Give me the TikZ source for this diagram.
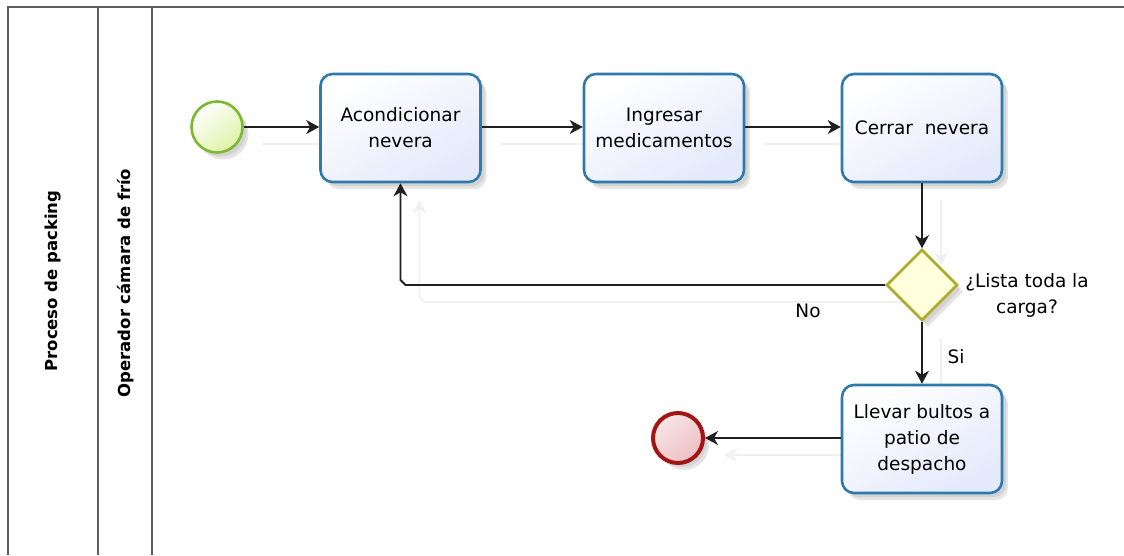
\documentclass[tikz,border=0pt]{standalone}
\usepackage{fontspec}
\setmainfont{DejaVu Sans}
\usetikzlibrary{arrows.meta,shapes.geometric,shadows,calc,backgrounds}
\definecolor{taskblue}{HTML}{2C7BAA}
\definecolor{taskfill}{HTML}{E4E9FB}
\definecolor{startgreen}{HTML}{7DB92E}
\definecolor{startfill}{HTML}{DDF3A8}
\definecolor{endred}{HTML}{A31414}
\definecolor{endfill}{HTML}{EDBFC2}
\definecolor{gateol}{HTML}{ABAB2A}
\definecolor{gatefill}{HTML}{FFFFDC}
\definecolor{lanegray}{HTML}{5E5E5E}
\definecolor{ghostgray}{HTML}{F0F0F0}
\begin{document}
\begin{tikzpicture}[x=1pt,y=-1pt,
  shad/.style={drop shadow={shadow xshift=6pt,shadow yshift=-7pt,opacity=.10,fill=black},
               drop shadow={shadow xshift=4pt,shadow yshift=-4pt,opacity=.08,fill=black}},
  task/.style={rectangle,rounded corners=12pt,draw=taskblue,line width=2.6pt,
    minimum width=160pt,minimum height=108pt,inner sep=2pt,
    top color=white,bottom color=taskfill,shading angle=30,
    align=center,font=\fontsize{18.5}{26}\selectfont,shad},
  startev/.style={circle,draw=startgreen,line width=2.6pt,minimum size=51pt,inner sep=0pt,
    top color=white,bottom color=startfill,shading angle=40,shad},
  endev/.style={circle,draw=endred,line width=4pt,minimum size=50pt,inner sep=0pt,
    top color=endfill!40,bottom color=endfill,shading angle=40,shad},
  gate/.style={diamond,aspect=1,draw=gateol,line width=2.6pt,minimum width=71pt,minimum height=71pt,
    inner sep=0pt,fill=gatefill,shad},
  conn/.style={line width=1.8pt,draw=black!88,-{Stealth[length=13pt,width=14pt,inset=4pt]}},
  ghost/.style={line width=1.6pt,draw=ghostgray,-{Stealth[length=13pt,width=14pt,inset=4pt]},
    transform canvas={shift={(19pt,-17pt)}}},
  lane/.style={draw=lanegray,line width=1.8pt},
  lanelabel/.style={rotate=90,font=\bfseries\fontsize{16.5}{19}\selectfont},
  lbl/.style={font=\fontsize{18.5}{26}\selectfont,align=center,inner sep=0pt}
]
\useasboundingbox (0,0) rectangle (1124,555);

% pool and lane
\draw[lane] (8,555) -- (8,7) -- (1124,7);
\draw[lane] (98,7) -- (98,555);
\draw[lane] (152,7) -- (152,555);
\node[lanelabel] (pool) at (53,281) {Proceso de packing};
\node[lanelabel] (lanename) at (126,283) {Operador cámara de frío};

% nodes
\node[startev] (start) at (217,127) {};
\node[task] (t1) at (400.5,128) {Acondicionar\\nevera};
\node[task] (t2) at (664,128) {Ingresar\\medicamentos};
\node[task] (t3) at (922,128) {Cerrar~ nevera};
\node[gate] (gw) at (922,285) {};
\node[task] (t4) at (922,439) {Llevar bultos a\\patio de\\despacho};
\node[endev] (end) at (678,438) {};

% labels
\node[lbl] (qlabel) at (1027,295) {¿Lista toda la\\carga?};
\node[lbl] (nolabel) at (808,311) {No};
\node[lbl] (silabel) at (956,357) {Si};

\coordinate (corner) at (t1.south |- gw.west);

% ghost reflections of the connectors
\begin{pgfonlayer}{background}
\draw[ghost] (start.east) -- (start.east -| t1.west);
\draw[ghost] (t1.east |- start.east) -- (t2.west |- start.east);
\draw[ghost] (t2.east |- start.east) -- (t3.west |- start.east);
\draw[ghost] (t3.south) -- (gw.north);
\draw[ghost] (gw.west) -- ($(corner)+(5,0)$) -- ($(corner)+(0,-5)$) -- (t1.south);
\draw[ghost] (gw.south) -- (t4.north);
\draw[ghost] (t4.west |- end.east) -- (end.east);
\end{pgfonlayer}

% connectors
\draw[conn] (start.east) -- (start.east -| t1.west);
\draw[conn] (t1.east |- start.east) -- (t2.west |- start.east);
\draw[conn] (t2.east |- start.east) -- (t3.west |- start.east);
\draw[conn] (t3.south) -- (gw.north);
\draw[conn] (gw.west) -- ($(corner)+(5,0)$) -- ($(corner)+(0,-5)$) -- (t1.south);
\draw[conn] (gw.south) -- (t4.north);
\draw[conn] (t4.west |- end.east) -- (end.east);
\end{tikzpicture}
\end{document}
